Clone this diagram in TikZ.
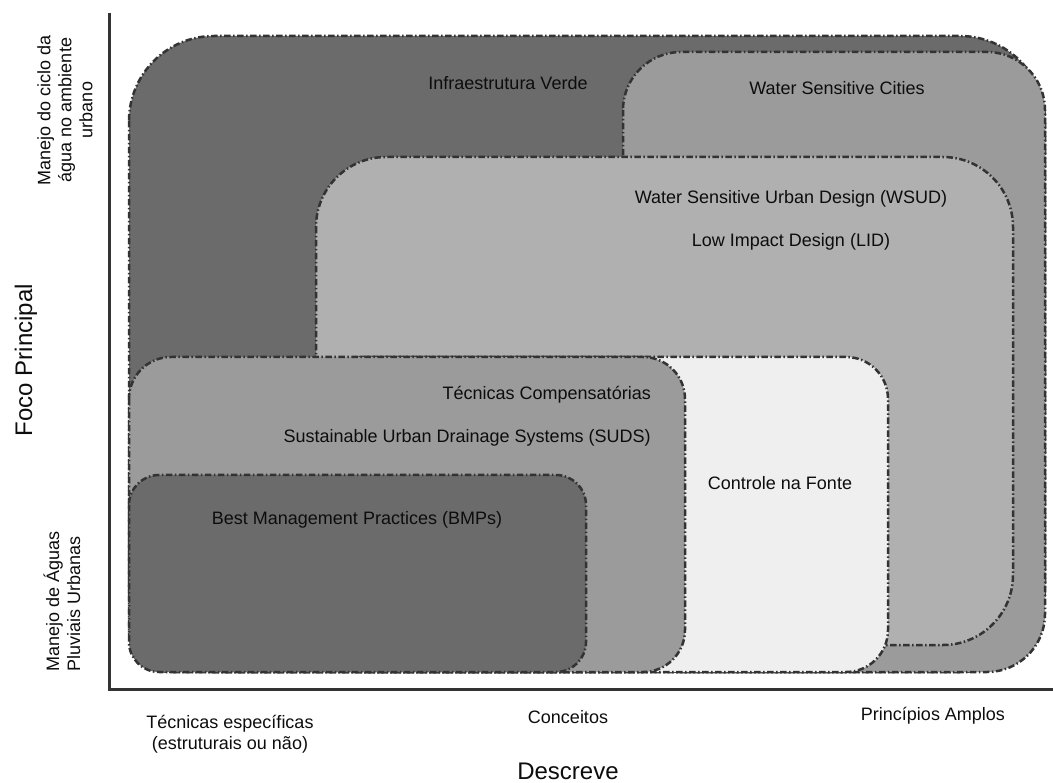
\documentclass[tikz,border=0pt]{standalone}
\usepackage{fontspec}
\setmainfont{Liberation Sans}
\definecolor{escuro}{HTML}{6B6B6B}
\definecolor{medio}{HTML}{9B9B9B}
\definecolor{claro}{HTML}{B0B0B0}
\definecolor{palido}{HTML}{EFEFEF}
\definecolor{contorno}{HTML}{333333}
\tikzset{
  zona/.style={draw=contorno, line width=2.5pt, dash pattern=on 6.5pt off 2.5pt on 1.5pt off 2.5pt, rounded corners=#1},
  rotulo/.style={font=\fontsize{18}{21}\selectfont, text=black!95, inner sep=0pt},
  eixo/.style={font=\fontsize{24}{28}\selectfont, text=black!95, inner sep=0pt},
}

\begin{document}
\begin{tikzpicture}[x=1pt, y=-1pt]
  \useasboundingbox (0,0) rectangle (1053,783);
  % regioes, de fora para dentro
  \draw[zona=85pt, fill=escuro] (129,36) rectangle (1045,672);
  \draw[zona=58pt, fill=medio] (623,52) rectangle (1045,672);
  \draw[zona=70pt, fill=claro] (316,157) rectangle (1013,645);
  \draw[zona=42pt, fill=palido] (320,357) rectangle (888,672);
  \draw[zona=42pt, fill=medio] (129,357) rectangle (685,672);
  \draw[zona=30pt, fill=escuro] (129,475) rectangle (586,672);

  % textos das regioes
  \node[rotulo] (verde) at (508,83) {Infraestrutura Verde};
  \node[rotulo] (wsc) at (837,88) {Water Sensitive Cities};
  \node[rotulo] (wsud) at (791,199) {Water Sensitive Urban Design (WSUD)};
  \node[rotulo] (lid) at (791,242) {Low Impact Design (LID)};
  \node[rotulo, anchor=east] (compensatorias) at (651,395) {Técnicas Compensatórias};
  \node[rotulo, anchor=east] (suds) at (651,438) {Sustainable Urban Drainage Systems (SUDS)};
  \node[rotulo] (fonte) at (780,483) {Controle na Fonte};
  \node[rotulo] (bmp) at (357,520) {Best Management Practices (BMPs)};

  % eixos
  \coordinate (topo) at (109,13);
  \coordinate (origem) at (109,689);
  \coordinate (fim) at (1053,689);
  \draw[line width=3pt, black!80] (topo) -- (origem) -- (fim);

  \node[eixo, rotate=90] (foco) at (26,360) {Foco Principal};
  \node[rotulo, rotate=90, align=center] (ciclo) at (65,110) {Manejo do ciclo da\\água no ambiente\\urbano};
  \node[rotulo, rotate=90, anchor=west, align=left] (pluviais) at (62,672) {Manejo de Águas\\Pluviais Urbanas};

  \node[rotulo, align=center] (especificas) at (230,734) {Técnicas específicas\\(estruturais ou não)};
  \node[rotulo] (conceitos) at (568,717) {Conceitos};
  \node[rotulo] (amplos) at (933,716) {Princípios Amplos};
  \node[eixo] (descreve) at (568,771) {Descreve};
\end{tikzpicture}
\end{document}
